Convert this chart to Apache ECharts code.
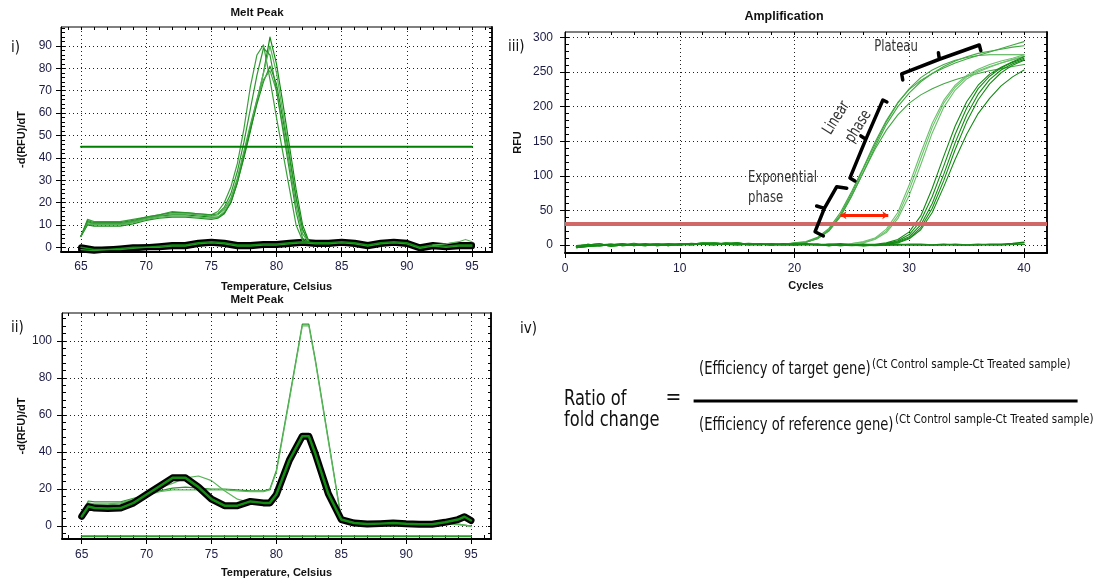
<!DOCTYPE html>
<html>
<head>
<meta charset="utf-8">
<script src="https://cdn.jsdelivr.net/npm/echarts@6/dist/echarts.min.js"></script>
<style>
html, body { margin: 0; padding: 0; background: #fff; }
#chart { width: 1099px; height: 583px; }
</style>
</head>
<body>
<div id="chart"></div>
<script>
// ---------- i) melt peak, sample curves ----------
var meltTempsA = [65, 65.5, 66, 67, 68, 69, 70, 71, 72, 73, 74, 75, 75.5, 76, 76.5, 77, 77.5, 78, 78.5, 79, 79.5, 80, 80.5, 81, 81.5, 82, 82.5];
var peakA = [5, 12.5, 11.5, 11.5, 11.5, 12.5, 13.5, 14.5, 16, 15.5, 15, 14.5, 16, 20, 27, 37.5, 53, 72, 86, 90.5, 75, 58, 42, 26, 10, 3, 2];
var peakB = [5, 11.5, 10.5, 10.5, 10.5, 11.5, 13, 14, 14.5, 14.5, 14, 13.5, 13.5, 15.5, 20, 29, 40, 52, 65, 78, 94, 82, 64, 45, 26, 10, 2.5];
var peakC = [5, 10.5, 10, 10, 10, 11, 12.5, 13.5, 14, 14, 13.5, 13, 13.5, 16, 21, 30, 42, 54, 66, 78, 90, 78, 60, 42, 23, 8, 2];
var peakD = [5, 10, 9.5, 9.5, 9.5, 10.5, 12, 13, 13.5, 13.5, 13, 12.5, 13, 15, 20, 29, 41, 53, 64, 74, 81, 73, 57, 40, 22, 8, 2];
var peakE = [5, 11, 10.5, 10.5, 10.5, 11.5, 13, 14, 15, 15, 14.5, 14, 14.5, 17, 22, 31, 43, 55, 66, 75, 79, 70, 54, 37, 19, 6, 2];
var peakF = [5, 12, 11, 11, 11, 12, 13.5, 14.5, 15.5, 15.5, 15, 14.5, 15, 18, 24, 34, 47, 62, 77, 89, 86, 70, 52, 34, 16, 4, 2];

// no-template baselines (thick black)
var meltTempsBase = [65, 66, 67, 68, 69, 70, 71, 72, 73, 74, 75, 76, 77, 78, 79, 80, 81, 82, 83, 84, 85, 86, 87, 88, 89, 90, 91, 92, 93, 94, 95];
var baseI1 = [0, -1, -1, -0.5, 0, 0, 0.5, 1, 1, 2, 2.5, 2, 1, 1, 1.5, 1.5, 2, 2.5, 2, 2, 2.5, 2, 1, 2, 2.5, 2, 0, 1, 0.5, 1, 1];
var baseI2 = [-1, -1.5, -1, -1, -0.5, 0, 0, 0.5, 0.5, 1.5, 2, 1.5, 0.5, 0.5, 1, 1, 1.5, 2, 1.5, 1.5, 2, 1.5, 0.5, 1.5, 2, 1.5, -0.5, 0.5, 0, 0.5, 0.5];
var tailTemps = [92, 93, 94, 94.5, 95];
var tailVals = [1, 1.5, 2.5, 3.5, 2.5];
var thresholdI = 45;

// ---------- ii) melt peak ----------
var meltTempsB = [65, 65.5, 66, 67, 68, 69, 70, 71, 72, 73, 74, 75, 76, 77, 78, 79, 79.5, 80, 81, 82, 82.5, 83, 84, 85, 86, 87, 88, 89, 90, 91, 92, 93, 94, 94.5, 95];
var blackII = [5.2, 10.5, 9.7, 9.5, 9.7, 12.5, 17, 21.5, 26, 26, 21, 14.5, 11, 11, 13.3, 12.5, 12.5, 17, 35.5, 48.5, 48.5, 39, 17.5, 3.5, 1.6, 1.1, 1.3, 1.6, 1.2, 1, 1, 2, 3.5, 5, 3];
var highII = [6, 13.5, 13, 13, 13, 15, 17, 19, 20.5, 21, 20.5, 20, 20, 19.5, 19, 19, 20, 30, 69, 109, 109, 90, 47, 4, 2, 1.5, 1.5, 1.5, 1.5, 1, 1, 1, 1, 0.5, 0];
var high2II = [6, 12.5, 12, 12, 12.5, 14.5, 16.5, 18.5, 19.5, 19.5, 19.5, 19.5, 19.5, 19, 18.5, 18.5, 19.5, 29, 68, 108, 108, 89, 46, 3.5, 2, 1.5, 1.5, 1.5, 1.5, 1, 1, 1, 0.8, 0.3, 0];
var humpII = [6, 12, 11.5, 11.5, 12, 14.5, 17.5, 20.5, 23, 26, 27, 24.5, 19, 14.5, 12.5, 12, 12.5, 16.5, 35, 48.5, 48.5, 38, 17, 3.5, 1.6, 1.1, 1.3, 1.6, 1.2, 1, 1, 1.5, 1, 0.5, 0];
var floorTemps = [65, 95];
var floorVals = [-5.5, -5.5];

// ---------- iii) amplification ----------
var cycles = [1, 2, 3, 4, 5, 6, 7, 8, 9, 10, 11, 12, 13, 14, 15, 16, 17, 18, 19, 20,
  21, 22, 23, 24, 25, 26, 27, 28, 29, 30, 31, 32, 33, 34, 35, 36, 37, 38, 39, 40];
var noiseA = [-2, 1, -1, 0, 2, -1, 1, 0, 2, 1, 0, 2, 3, 1, 2, 0, 1, 2, 1, 2, 1, 0, 1, 2, 0, 1];
var noiseB = [-3, -1, 0, 1, -1, 0, 2, -1, 0, 1, 2, 1, 0, 3, 1, 2, 1, 0, 2, 1, 0, 1, -1, 0, 1, -1];
var noiseC = [-1, 0, 2, -2, 0, 1, 0, 1, -1, 2, 1, 3, 2, 1, 0, 1, 2, 1, 0, 1, 2, 0, -1, 1, 0, 0];
var noiseD = [-4, -2, -1, 0, 1, 0, -1, 1, 0, 0, 2, 1, 2, 2, 3, 1, 1, 0, 1, 0, 1, 1, 0, -1, 0, 1];
// cycles 20-40
var riseG1a = [3, 5, 11, 24, 47, 78, 112, 148, 180, 206, 225, 238, 248, 256, 263, 269, 274, 279, 284, 289, 294];
var riseG1b = [2, 4, 9, 20, 41, 71, 105, 141, 174, 200, 220, 236, 248, 258, 266, 272, 277, 280, 283, 286, 288];
var riseG1c = [3, 4, 10, 22, 44, 75, 110, 145, 178, 205, 226, 242, 253, 261, 267, 271, 274, 275, 275, 275, 275];
var riseG1d = [2, 4, 9, 21, 42, 72, 105, 138, 166, 188, 205, 217, 226, 233, 239, 244, 248, 252, 255, 258, 261];
// cycles 24-40
var riseG2a = [1, 2, 4, 9, 20, 42, 80, 125, 170, 205, 228, 243, 252, 258, 263, 268, 272];
var riseG2b = [0, 1, 3, 8, 18, 38, 72, 116, 162, 199, 224, 240, 250, 257, 263, 268, 273];
var riseG2c = [1, 2, 5, 10, 23, 47, 87, 133, 176, 209, 231, 245, 254, 261, 266, 270, 275];
// cycles 27-40
var riseG3a = [1, 3, 8, 19, 42, 82, 128, 172, 207, 231, 247, 257, 265, 272];
var riseG3b = [0, 2, 6, 15, 35, 70, 114, 160, 198, 226, 244, 256, 264, 270];
var riseG3c = [0, 2, 5, 12, 29, 60, 102, 148, 188, 218, 239, 253, 262, 268];
var riseG3d = [0, 1, 4, 10, 25, 53, 93, 138, 178, 210, 233, 249, 260, 267];
var riseG3e = [0, 1, 3, 9, 22, 47, 84, 124, 160, 190, 212, 230, 243, 253];
var ntc1 = [-2, -1, 0, 1, 0, 2, 0, 1, 1, 0, 2, 1, 2, 2, 1, 2, 1, 1, 0, 1, 1, 0, 1, 0, 0, -1, 0, 0, 1, 0, 0, 0, 1, 0, 0, 0, 1, 1, 2, 4];
var ntc2 = [-3, 0, -1, 0, 1, 0, 1, 2, 0, 1, 1, 2, 3, 1, 2, 1, 0, 2, 1, 0, 1, 1, 0, 0, -1, 0, -1, 0, 0, 1, 1, 0, 0, 1, 0, 1, 0, 0, 1, 1];
var thresholdIII = 31;
var ctArrow = [[24.0, 43], [28.17, 43]];
var bracketExp = [[22.51, 13], [21.79, 19.2], [22.6, 53], [21.93, 56.4], [22.6, 53], [23.68, 84.3], [24.55, 82]];
var bracketLin = [[25.26, 92.5], [24.83, 96.9], [26.22, 153], [25.78, 157.6], [26.22, 153], [27.7, 209.6], [28.05, 206.7]];
var bracketPlat = [[29.43, 238.5], [29.34, 247.2], [32.62, 268.5], [32.54, 278], [32.62, 268.5], [36.1, 289.1], [36.23, 281]];

// ---------- tick values ----------
var tempTicks = [65, 70, 75, 80, 85, 90, 95];
var tempMinor = [64, 65, 66, 67, 68, 69, 70, 71, 72, 73, 74, 75, 76, 77, 78, 79, 80, 81, 82, 83, 84, 85, 86, 87, 88, 89, 90, 91, 92, 93, 94, 95, 96];
var dIticks = [0, 10, 20, 30, 40, 50, 60, 70, 80, 90];
var dIminor = [-2, 0, 2, 4, 6, 8, 10, 12, 14, 16, 18, 20, 22, 24, 26, 28, 30, 32, 34, 36, 38, 40, 42, 44, 46, 48, 50, 52, 54, 56, 58, 60, 62, 64, 66, 68, 70, 72, 74, 76, 78, 80, 82, 84, 86, 88, 90, 92, 94, 96, 98];
var dIIticks = [0, 20, 40, 60, 80, 100];
var dIIminor = [-4, 0, 4, 8, 12, 16, 20, 24, 28, 32, 36, 40, 44, 48, 52, 56, 60, 64, 68, 72, 76, 80, 84, 88, 92, 96, 100, 104, 108, 112];
var cycTicks = [0, 10, 20, 30, 40];
var cycMinor = [0, 2, 4, 6, 8, 10, 12, 14, 16, 18, 20, 22, 24, 26, 28, 30, 32, 34, 36, 38, 40, 42];
var rfuTicks = [0, 50, 100, 150, 200, 250, 300];
var rfuMinor = [-10, 0, 10, 20, 30, 40, 50, 60, 70, 80, 90, 100, 110, 120, 130, 140, 150, 160, 170, 180, 190, 200, 210, 220, 230, 240, 250, 260, 270, 280, 290, 300];

var ARIAL = '"Liberation Sans", Arial, sans-serif';
var NARROW = '"Liberation Sans Narrow", "DejaVu Sans Condensed", "Liberation Sans", sans-serif';
var LABEL_COLOR = '#1b1b45';

function pairs(xs, ys) {
  return xs.map(function (x, i) { return [x, ys[i]]; });
}

// main axis (labels, grid) plus minor-tick axes on both sides of the frame
function axisSet(gridIndex, min, max, majors, minors, margin, name, nameGap, near, far, heavy) {
  var main = {
    type: 'value', gridIndex: gridIndex, min: min, max: max, position: near,
    name: name, nameLocation: 'middle', nameGap: nameGap,
    nameTextStyle: { fontFamily: ARIAL, fontWeight: 'bold', fontSize: 11, color: '#111' },
    axisLine: { show: true, onZero: false, lineStyle: { color: '#000', width: heavy === 'near' ? 2 : 1 } },
    axisTick: { show: true, customValues: majors, length: 5, inside: false, lineStyle: { color: '#000' } },
    axisLabel: { customValues: majors, margin: margin, fontFamily: ARIAL, fontSize: 12, color: LABEL_COLOR },
    splitLine: { show: true, lineStyle: { color: '#222', width: 1, type: [1, 3] } }
  };
  function tickAxis(pos, len, lineColor, lineWidth) {
    return {
      type: 'value', gridIndex: gridIndex, min: min, max: max, position: pos, offset: 0,
      axisLine: { show: true, onZero: false, lineStyle: { color: lineColor, width: lineWidth } },
      axisTick: { show: true, customValues: minors, length: len, inside: true, lineStyle: { color: '#000' } },
      axisLabel: { show: false, customValues: minors },
      splitLine: { show: false }
    };
  }
  return [main, tickAxis(near, 4, 'rgba(0,0,0,0)', 1),
          tickAxis(far, 3, heavy === 'far' ? '#111' : 'rgba(0,0,0,0)', 2)];
}

var xI = axisSet(0, 63.465, 96.535, tempTicks, tempMinor, 9, 'Temperature, Celsius', 29, 'bottom', 'top', 'near');
var yI = axisSet(0, -2.1, 98.5, dIticks, dIminor, 9, '-d(RFU)/dT', 34, 'left', 'right', 'far');
var xII = axisSet(1, 63.48, 96.54, tempTicks, tempMinor, 10, 'Temperature, Celsius', 28, 'bottom', 'top', 'near');
var yII = axisSet(1, -7.0, 115.0, dIIticks, dIIminor, 10, '-d(RFU)/dT', 35, 'left', 'right', 'far');
var xIII = axisSet(2, 0, 42, cycTicks, cycMinor, 10, 'Cycles', 27, 'bottom', 'top', 'near');
var yIII = axisSet(2, -11.6, 307.9, rfuTicks, rfuMinor, 12, 'RFU', 42, 'left', 'right', 'far');

function line(ax, data, color, width, z) {
  return {
    type: 'line', xAxisIndex: ax, yAxisIndex: ax, data: data, symbol: 'none',
    silent: true, animation: false, z: z || 2,
    lineStyle: { color: color, width: width, cap: 'round', join: 'round' }
  };
}

var series = [];
// i)
var peaks = [peakA, peakB, peakC, peakD, peakE, peakF];
var peakColors = ['#3a9f3a', '#138a13', '#58b458', '#1f8f1f', '#4aa84a', '#2c962c'];
peaks.forEach(function (p, i) { series.push(line(0, pairs(meltTempsA, p), peakColors[i], 1.2, 3)); });
series.push(line(0, pairs(meltTempsBase, baseI1), '#000', 6, 2));
series.push(line(0, pairs(meltTempsBase, baseI2), '#000', 6, 2));
series.push(line(0, pairs(meltTempsBase, baseI1), '#0e8a0e', 1.5, 3));
series.push(line(0, pairs(meltTempsBase, baseI2), '#2a9a2a', 1.2, 3));
series.push(line(0, pairs(tailTemps, tailVals), '#5cb85c', 1.2, 3));
series.push(line(0, pairs([65, 95], [thresholdI, thresholdI]), '#008000', 2, 4));
// ii)
series.push(line(3, pairs(meltTempsB, highII), '#2c962c', 1.2, 3));
series.push(line(3, pairs(meltTempsB, high2II), '#5cb85c', 1.2, 3));
series.push(line(3, pairs(meltTempsB, humpII), '#58b458', 1.2, 3));
series.push(line(3, pairs(meltTempsB, blackII), '#000', 7, 4));
series.push(line(3, pairs(meltTempsB, blackII), '#148c14', 2.5, 5));
series.push(line(3, pairs(floorTemps, floorVals), '#2a9a2a', 2, 3));
// iii)
var g1 = [noiseA.slice(0, 19).concat(riseG1a), noiseB.slice(0, 19).concat(riseG1b),
          noiseC.slice(0, 19).concat(riseG1c), noiseD.slice(0, 19).concat(riseG1d)];
var g2 = [noiseB.slice(0, 23).concat(riseG2a), noiseC.slice(0, 23).concat(riseG2b),
          noiseA.slice(0, 23).concat(riseG2c)];
var g3 = [noiseD.concat(riseG3a), noiseA.concat(riseG3b), noiseB.concat(riseG3c),
          noiseC.concat(riseG3d), noiseD.concat(riseG3e)];
series.push(line(6, pairs(cycles, ntc1), '#0a7d0a', 1.6, 3));
series.push(line(6, pairs(cycles, ntc2), '#1b8a1b', 1.4, 3));
g1.forEach(function (d) { series.push(line(6, pairs(cycles, d), '#43a843', 1.1, 3)); });
g2.forEach(function (d) { series.push(line(6, pairs(cycles, d), '#6cc06c', 1.1, 3)); });
g3.forEach(function (d) { series.push(line(6, pairs(cycles, d), '#138a13', 1.1, 3)); });
var thr = line(6, [], '#d06868', 1, 2);
thr.markLine = {
  silent: true, animation: false, symbol: 'none', label: { show: false },
  lineStyle: { color: '#d06868', width: 4, type: 'solid' },
  data: [{ yAxis: thresholdIII }]
};
series.push(thr);
var arrow = line(6, [], '#ff2200', 1, 6);
arrow.markLine = {
  silent: true, animation: false, symbol: ['arrow', 'arrow'], symbolSize: [6, 6], label: { show: false },
  lineStyle: { color: '#ff2200', width: 3, type: 'solid' },
  data: [[{ coord: ctArrow[0] }, { coord: ctArrow[1] }]]
};
series.push(arrow);
[bracketExp, bracketLin, bracketPlat].forEach(function (b) {
  series.push(line(6, b, '#000', 3.5, 7));
});

function txt(x, y, text, size, family, extra) {
  var el = { type: 'text', x: x, y: y, silent: true,
    style: { text: text, fontSize: size, fontFamily: family, fill: '#111', align: 'left', verticalAlign: 'middle' } };
  extra = extra || {};
  for (var k in extra) {
    if (k === 'scaleX' || k === 'rotation') el[k] = extra[k];
    else el.style[k] = extra[k];
  }
  return el;
}

var SQ = 0.81;   // annotation font is a condensed face
var FQ = 0.86;   // formula font
var graphics = [
  txt(257, 13, 'Melt Peak', 11.5, ARIAL, { fontWeight: 'bold', align: 'center' }),
  txt(257, 300, 'Melt Peak', 11.5, ARIAL, { fontWeight: 'bold', align: 'center' }),
  txt(784, 17, 'Amplification', 12.5, ARIAL, { fontWeight: 'bold', align: 'center' }),
  txt(11, 48, 'i)', 15, NARROW),
  txt(11, 328, 'ii)', 15, NARROW),
  txt(508, 47, 'iii)', 15, NARROW),
  txt(520, 329, 'iv)', 15, NARROW),
  txt(896, 47, 'Plateau', 16, NARROW, { fill: '#333', align: 'center', scaleX: SQ }),
  txt(748, 178, 'Exponential', 16, NARROW, { fill: '#333', scaleX: SQ }),
  txt(748, 198, 'phase', 16, NARROW, { fill: '#333', scaleX: SQ }),
  txt(836.5, 118, 'Linear', 16, NARROW, { fill: '#333', align: 'center', scaleX: SQ, rotation: 1.01 }),
  txt(858.5, 126.5, 'phase', 16, NARROW, { fill: '#333', align: 'center', scaleX: SQ, rotation: 1.01 }),
  // formula
  txt(564, 400, 'Ratio of', 21, NARROW, { scaleX: FQ }),
  txt(564, 420.5, 'fold change', 21, NARROW, { scaleX: FQ }),
  txt(673.5, 399, '=', 21, NARROW, { align: 'center' }),
  { type: 'line', silent: true, shape: { x1: 693.6, y1: 401, x2: 1077.6, y2: 401 },
    style: { stroke: '#000', lineWidth: 3 } },
  txt(699, 370, '(Efficiency of target gene)', 17, NARROW, { scaleX: FQ }),
  txt(872, 365, '(Ct Control sample-Ct Treated sample)', 11.5, NARROW),
  txt(699, 425.5, '(Efficiency of reference gene)', 17, NARROW, { scaleX: FQ }),
  txt(895, 420.5, '(Ct Control sample-Ct Treated sample)', 11.5, NARROW)
];

var chart = echarts.init(document.getElementById('chart'), null, { renderer: 'canvas' });
chart.setOption({
  animation: false,
  backgroundColor: '#fff',
  textStyle: { fontFamily: ARIAL },
  grid: [
    { left: 61, top: 27, width: 431, height: 225, show: true, borderColor: '#000', borderWidth: 1 },
    { left: 62, top: 313, width: 429, height: 226, show: true, borderColor: '#000', borderWidth: 1 },
    { left: 565, top: 32, width: 482, height: 221, show: true, borderColor: '#000', borderWidth: 1 }
  ],
  xAxis: [].concat(xI, xII, xIII),
  yAxis: [].concat(yI, yII, yIII),
  series: series,
  graphic: graphics
});
</script>
</body>
</html>
